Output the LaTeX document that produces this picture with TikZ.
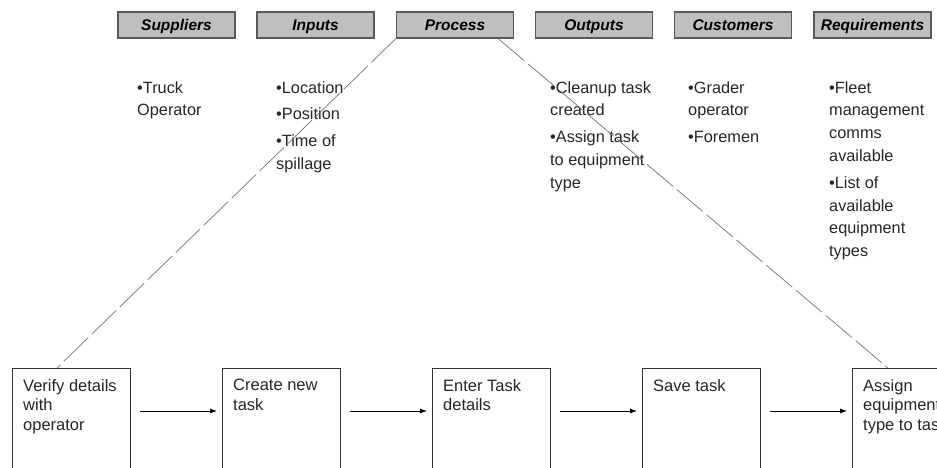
\documentclass[tikz,border=0pt]{standalone}
\usepackage{fontspec}
\setmainfont{Liberation Sans}
\usetikzlibrary{arrows.meta,calc}

\tikzset{
  header/.style={draw=black!65, line width=1.2pt, fill=black!25,
    minimum width=117pt, minimum height=26pt, inner sep=0pt,
    text height=11.5pt, text depth=0.5pt,
    font=\fontsize{15.5}{18}\selectfont\bfseries\itshape},
  bullets/.style={anchor=north west, align=left, inner sep=0pt,
    font=\fontsize{16.3}{22.8}\selectfont, text=black!85},
  stepbox/.style={draw=black!80, line width=0.8pt, minimum width=118pt,
    minimum height=112pt, anchor=north west, inner sep=0pt},
  boxtext/.style={anchor=north west, align=left, inner sep=0pt,
    font=\fontsize{16.5}{19.5}\selectfont, text=black!85},
  flow/.style={-{Latex[length=7pt,width=5pt]}, line width=0.8pt},
  guide/.style={draw=black!55, line width=0.7pt, dash pattern=on 34pt off 5pt}
}

\begin{document}
\begin{tikzpicture}[x=1pt,y=-1pt]
\useasboundingbox (0,0) rectangle (937,468);
\clip (0,0) rectangle (937,468);
\fill[white] (0,0) rectangle (937,468);

% SIPOC header row
\node[header] (sup) at (176.5,25) {Suppliers};
\node[header] (inp) at (315.5,25) {Inputs};
\node[header] (pro) at (455,25) {Process};
\node[header] (out) at (594,25) {Outputs};
\node[header] (cus) at (733,25) {Customers};
\node[header] (req) at (872.5,25) {Requirements};

% column contents
\node[bullets] (tsup) at (137,81) {•Truck\\Operator};
\node[bullets] (tinp) at (276,81) {•Location\\[4pt]•Position\\[4pt]•Time of\\spillage};
\node[bullets] (tout) at (550,81) {•Cleanup task\\created\\[4pt]•Assign task\\to equipment\\type};
\node[bullets] (tcus) at (688,81) {•Grader\\operator\\[4pt]•Foremen};
\node[bullets] (treq) at (829,81) {•Fleet\\management\\comms\\available\\[4pt]•List of\\available\\equipment\\types};

% process steps
\node[stepbox] (b1) at (12,368) {};
\node[stepbox] (b2) at (222,368) {};
\node[stepbox] (b3) at (432,368) {};
\node[stepbox] (b4) at (642,368) {};
\node[stepbox] (b5) at (852,368) {};

\node[boxtext] (l1) at ([shift={(11,11)}]b1.north west) {Verify details\\with\\operator};
\node[boxtext] (l2) at ([shift={(11,11)}]b2.north west) {Create new\\task};
\node[boxtext] (l3) at ([shift={(11,11)}]b3.north west) {Enter Task\\details};
\node[boxtext] (l4) at ([shift={(11,11)}]b4.north west) {Save task};
\node[boxtext] (l5) at ([shift={(11,11)}]b5.north west) {Assign\\equipment\\type to task};

% arrows between steps
\draw[flow] ([shift={(9,43)}]b1.north east) -- ([shift={(-5,43)}]b2.north west);
\draw[flow] ([shift={(9,43)}]b2.north east) -- ([shift={(-5,43)}]b3.north west);
\draw[flow] ([shift={(9,43)}]b3.north east) -- ([shift={(-5,43)}]b4.north west);
\draw[flow] ([shift={(9,43)}]b4.north east) -- ([shift={(-5,43)}]b5.north west);

% Process expands into the step sequence
\coordinate (pl) at ([xshift=45]b1.north west);
\coordinate (pr) at ([xshift=36]b5.north west);
\draw[guide] (pro.south west) -- (pl);
\draw[guide] ([xshift=-16]pro.south east) -- (pr);
\end{tikzpicture}
\end{document}
